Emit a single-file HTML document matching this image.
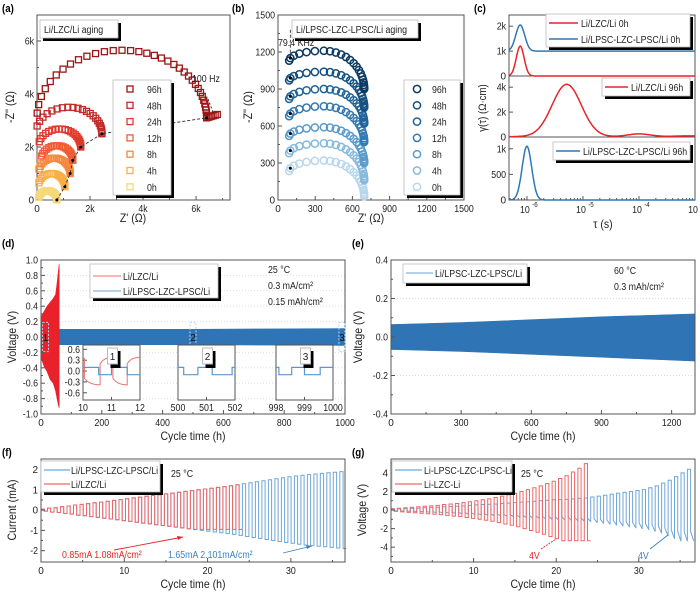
<!DOCTYPE html>
<html><head><meta charset="utf-8"><style>
html,body{margin:0;padding:0;background:#fff;}
svg{display:block;font-family:"Liberation Sans",sans-serif;}
</style></head><body>
<svg id="fig" width="700" height="594" viewBox="0 0 700 594" xmlns="http://www.w3.org/2000/svg"></svg>
<script>
// ---------- DATA ----------
const aLabels=['96h','48h','24h','12h','8h','4h','0h'];
const aCx=[3.2,1.2,0.85,0.75,0.65,0.55,0.4];
const aCy=[3.1,2.5,2.0,1.5,1.0,0.5,0.0];
const aRx=[3.2,1.25,0.8,0.6,0.6,0.5,0.35];
const aRy=[2.55,1.0,0.68,0.55,0.58,0.5,0.35];
const aColors=['#9e1414','#c22a28','#e0392b','#f05d33','#f5883c','#f8b045','#f7d878'];
const bLabels=['96h','48h','24h','12h','8h','4h','0h'];
const bPeak=[1210,1040,900,760,590,460,320];
const bLeft=[1130,970,820,680,520,380,235];
const bEnd=[900,750,620,470,300,160,30];
const bColors=['#0c3a62','#16507f','#216499','#357ab1','#5a9bcb','#87b9dd','#b8d7ed'];
const cTop0hBlue={base:1000,c:[-6.12],h:[1050],w:[0.08]};
const cTop0hRed={base:0,c:[-6.12],h:[1200],w:[0.07]};
const cMid96hRed={base:30,c:[-5.29,-4.0,-3.1],h:[4200,220,60],w:[0.26,0.2,0.3]};
const cBot96hBlue={base:0,c:[-6.0],h:[1050],w:[0.085]};
const dRedT=[0,3,10,20,30,40,48,53,57,60];
const dRedUp=[0.1,0.28,0.33,0.4,0.45,0.5,0.55,0.7,0.85,0.95];
const dRedLow=[-0.1,-0.3,-0.38,-0.45,-0.55,-0.6,-0.7,-0.8,-0.88,-0.92];
const dBlueT=[0,250,500,750,1000];
const dBlueUp=[0.1,0.1,0.1,0.105,0.11];
const dBlueLow=[-0.1,-0.1,-0.1,-0.105,-0.11];
const eT=[0,300,600,900,1300];
const eUp=[0.065,0.075,0.09,0.105,0.12];
const eLow=[-0.065,-0.075,-0.09,-0.105,-0.125];
const fRedAmp=[0.05,0.1,0.12,0.17,0.2,0.25,0.28,0.32,0.36,0.4,0.44,0.48,0.52,0.56,0.6,0.64,0.68,0.72,0.76,0.8,0.84,0.88,0.92,0.96,1.0,1.04,1.08,1.12,1.16,1.2,1.25];
const fRedNegFloor=-0.95;
const fBlueAmp=[0.05,0.1,0.12,0.17,0.2,0.25,0.28,0.32,0.36,0.4,0.44,0.48,0.52,0.56,0.6,0.64,0.68,0.72,0.76,0.8,0.84,0.88,0.92,0.96,1.0,1.04,1.08,1.12,1.16,1.2,1.25,1.3,1.35,1.4,1.45,1.5,1.55,1.6,1.64,1.68,1.72,1.75,1.78,1.81,1.84,1.87,1.9];
const gRedAmp=[0.15,0.2,0.25,0.3,0.35,0.4,0.45,0.5,0.6,0.65,0.7,0.8,0.9,1.0,1.1,1.2,1.35,1.5,1.65,1.8,2.0,2.2,2.4,2.6,2.85,3.1,3.4,3.7,4.1,4.5,5.0];
const gBlueAmp=[0.1,0.12,0.15,0.18,0.2,0.25,0.28,0.3,0.35,0.38,0.4,0.45,0.5,0.55,0.6,0.62,0.65,0.7,0.75,0.8,0.85,0.9,0.95,1.0,1.05,1.1,1.12,1.15,1.2,1.25,1.3,1.4,1.5,1.6,1.7,1.8,1.9,2.0,2.1,2.2,2.4,2.6,2.9,3.2,3.6,4.0,4.4];
const gNegFloor=-3.3;
const cyclePeriod=0.78;

// ---------- HELPERS ----------
const NS='http://www.w3.org/2000/svg';
const svg=document.getElementById('fig');
function mk(tag,attrs,name,parent){
  const el=document.createElementNS(NS,tag);
  for(const k in attrs) el.setAttribute(k,attrs[k]);
  
  
  (parent||svg).appendChild(el);
  return el;
}
function txt(x,y,s,name,o){
  o=o||{};
  const el=mk('text',{x:x,y:y,'font-size':o.size||10,fill:o.fill||'#222','text-anchor':o.anchor||'start','font-weight':o.bold?'bold':'normal'},name);
  if(o.rot) el.setAttribute('transform','rotate(-90 '+x+' '+y+')');
  el.textContent=s;
  return el;
}
function axis(x0,x1,xmin,xmax,yb,yt,ymin,ymax,log){
  return {
    X:v=>log? x0+(Math.log10(v)-xmin)/(xmax-xmin)*(x1-x0) : x0+(v-xmin)/(xmax-xmin)*(x1-x0),
    XL:v=>x0+(v-xmin)/(xmax-xmin)*(x1-x0),
    Y:v=>yb-(v-ymin)/(ymax-ymin)*(yb-yt), x0,x1,yb,yt};
}
function frame(ax,name){
  mk('rect',{x:ax.x0,y:ax.yt,width:ax.x1-ax.x0,height:ax.yb-ax.yt,fill:'none',stroke:'#555','stroke-width':1},name);
}
function yticks(ax,vals,labels,name,minor){
  vals.forEach((v,i)=>{
    const y=ax.Y(v);
    mk('line',{x1:ax.x0,x2:ax.x0+4,y1:y,y2:y,stroke:'#555'},name+'-tick');
    txt(ax.x0-3,y+3.5,labels[i],name+'-label',{anchor:'end'});
  });
  (minor||[]).forEach(v=>{const y=ax.Y(v);mk('line',{x1:ax.x0,x2:ax.x0+2,y1:y,y2:y,stroke:'#555'},name+'-minor-tick');});
}
function xticks(ax,vals,labels,name,minor,useLog){
  vals.forEach((v,i)=>{
    const x=useLog?ax.XL(v):ax.X(v);
    mk('line',{x1:x,x2:x,y1:ax.yb,y2:ax.yb-4,stroke:'#555'},name+'-tick');
    txt(x,ax.yb+12,labels[i],name+'-label',{anchor:'middle'});
  });
  (minor||[]).forEach(v=>{const x=useLog?ax.XL(v):ax.X(v);mk('line',{x1:x,x2:x,y1:ax.yb,y2:ax.yb-2,stroke:'#555'},name+'-minor-tick');});
}
function pathD(pts){return pts.map((p,i)=>(i?'L':'M')+p[0].toFixed(1)+' '+p[1].toFixed(1)).join(' ');}
function shadowBox(x,y,w,h,name){
  mk('rect',{x:x+3,y:y+3,width:w,height:h,fill:'#000'},name+'-shadow');
  mk('rect',{x:x,y:y,width:w,height:h,fill:'#fff',stroke:'#bbb','stroke-width':0.8},name);
}
function band(ax,T,U,L,color,name){
  const pts=T.map((t,i)=>[ax.X(t),ax.Y(U[i])]).concat(T.map((t,i)=>[ax.X(t),ax.Y(L[i])]).reverse());
  mk('path',{d:pathD(pts)+' Z',fill:color,stroke:color,'stroke-width':0.6},name);
}
function squareWave(ax,amps,neg,color,name,sw,shape){
  let pts=[[ax.X(0),ax.Y(0)]];
  amps.forEach((a,i)=>{
    const t0=i*cyclePeriod, th=t0+cyclePeriod/2, t1=t0+cyclePeriod;
    const n=neg(a,i);
    pts.push([ax.X(t0),ax.Y(a)],[ax.X(th),ax.Y(a)],[ax.X(th),ax.Y(n*(shape?0.7:1))],[ax.X(t1-0.02),ax.Y(n)],[ax.X(t1),ax.Y(n)]);
  });
  mk('path',{d:pathD(pts),fill:'none',stroke:color,'stroke-width':sw||1},name);
}

// ---------- PANEL LABELS ----------
[['(a)',2,12],['(b)',232,12],['(c)',474,12],['(d)',2,247],['(e)',352,247],['(f)',2,456],['(g)',352,456]].forEach(p=>{
  txt(p[1],p[2],p[0],'panel-label-'+p[0].replace(/[()]/g,''),{size:11,bold:true,fill:'#000'});
});

// ---------- (a) ----------
const A=axis(37,230,0,7.28,200,15,0,6.98);
frame(A,'panel-a-frame');
yticks(A,[0,2,4,6],['0','2k','4k','6k'],'panel-a-y',[1,3,5]);
xticks(A,[0,2,4,6],['0','2k','4k','6k'],'panel-a-x',[1,3,5,7]);
txt(14,107,"-Z'' (Ω)",'panel-a-y-title',{size:12,rot:true,anchor:'middle'});
txt(133,222,"Z' (Ω)",'panel-a-x-title',{size:12,anchor:'middle'});
const aEnds=[];
for(let k=aLabels.length-1;k>=0;k--){
  const th0=(k===0?176:163)*Math.PI/180, N=k===0?36:22;
  for(let j=0;j<=N;j++){
    const t=j/N, th=th0*Math.pow(1-t,1.5);
    const px=A.X(aCx[k]+aRx[k]*Math.cos(th)), py=A.Y(aCy[k]+aRy[k]*Math.sin(th));
    mk('rect',{x:px-3,y:py-3,width:6,height:6,fill:'none',stroke:aColors[k],'stroke-width':1.3},'panel-a-point-'+aLabels[k]);
  }
  aEnds.push([A.X(aCx[k]+aRx[k]),A.Y(aCy[k])]);
}
for(let j=1;j<=5;j++){
  const px=A.X(aCx[0]+aRx[0]+j*0.08), py=A.Y(aCy[0]+j*0.025);
  mk('rect',{x:px-3,y:py-3,width:6,height:6,fill:'none',stroke:aColors[0],'stroke-width':1.3},'panel-a-point-96h-tail');
}
mk('path',{d:pathD(aEnds),fill:'none',stroke:'#333','stroke-width':0.9,'stroke-dasharray':'3,2'},'panel-a-frequency-line');
aEnds.forEach(p=>mk('circle',{cx:p[0],cy:p[1],r:1.5,fill:'#000'},'panel-a-100hz-marker'));
txt(192,82,'100 Hz','panel-a-100hz-label',{size:10});
mk('line',{x1:208,y1:99,x2:213,y2:112,stroke:'#333','stroke-dasharray':'2,2'},'panel-a-100hz-pointer');
shadowBox(40,20,78,18,'panel-a-title-box');
txt(44,33,'Li/LZC/Li aging','panel-a-title',{size:10});
shadowBox(113,80,58,115,'panel-a-legend');
aLabels.forEach((l,i)=>{
  const y=89+i*16.3;
  mk('rect',{x:127,y:y-3,width:6,height:6,fill:'none',stroke:aColors[i],'stroke-width':1.3},'panel-a-legend-marker-'+l);
  txt(147,y+4,l,'panel-a-legend-entry-'+l,{size:10});
});

// ---------- (b) ----------
const B=axis(278,464,0,1500,200,15,0,1500);
frame(B,'panel-b-frame');
yticks(B,[0,300,600,900,1200,1500],['0','300','600','900','1200','1500'],'panel-b-y',[150,450,750,1050,1350]);
xticks(B,[0,300,600,900,1200,1500],['0','300','600','900','1200','1500'],'panel-b-x',[150,450,750,1050,1350]);
txt(252,107,"-Z'' (Ω)",'panel-b-y-title',{size:12,rot:true,anchor:'middle'});
txt(371,222,"Z' (Ω)",'panel-b-x-title',{size:12,anchor:'middle'});
const bDots=[];
for(let k=bLabels.length-1;k>=0;k--){
  const pts=[];
  for(let j=0;j<=6;j++){const th=Math.PI*(1-j/12);pts.push([370+280*Math.cos(th),bLeft[k]+(bPeak[k]-bLeft[k])*Math.sin(th)]);}
  const N=16;
  for(let j=1;j<=N;j++){const t=j/N, th=Math.PI/2*Math.pow(1-t,1.6);pts.push([370+325*Math.cos(th),bEnd[k]+(bPeak[k]-bEnd[k])*Math.sin(th)]);}
  pts.forEach(p=>mk('circle',{cx:B.X(p[0]),cy:B.Y(p[1]),r:3.6,fill:'none',stroke:bColors[k],'stroke-width':1.5},'panel-b-point-'+bLabels[k]));
  bDots.push([B.X(pts[1][0]),B.Y(pts[1][1])]);
}
mk('line',{x1:bDots[0][0],y1:B.Y(1380),x2:bDots[0][0],y2:bDots[6][1],stroke:'#333','stroke-width':0.9,'stroke-dasharray':'3,2'},'panel-b-frequency-line');
bDots.forEach(p=>mk('circle',{cx:p[0],cy:p[1],r:1.5,fill:'#000'},'panel-b-79khz-marker'));
txt(278,46,'79.4 KHz','panel-b-79khz-label',{size:10});
shadowBox(292,20,126,18,'panel-b-title-box');
txt(296,33,'Li/LPSC-LZC-LPSC/Li aging','panel-b-title',{size:10});
shadowBox(404,80,56,115,'panel-b-legend');
bLabels.forEach((l,i)=>{
  const y=89+i*16.3;
  mk('circle',{cx:417,cy:y,r:3.6,fill:'none',stroke:bColors[i],'stroke-width':1.5},'panel-b-legend-marker-'+l);
  txt(432,y+4,l,'panel-b-legend-entry-'+l,{size:10});
});

// ---------- (c) ----------
const cx0=509,cx1=695,cmin=-6.32,cmax=-3.0;
const CT=axis(cx0,cx1,cmin,cmax,76,15,0,2450);
const CM=axis(cx0,cx1,cmin,cmax,137,76,0,4900);
const CB=axis(cx0,cx1,cmin,cmax,200,137,0,1230);
mk('rect',{x:cx0,y:15,width:cx1-cx0,height:185,fill:'none',stroke:'#555'},'panel-c-frame');
mk('line',{x1:cx0,x2:cx1,y1:76,y2:76,stroke:'#555'},'panel-c-divider-1');
mk('line',{x1:cx0,x2:cx1,y1:137,y2:137,stroke:'#555'},'panel-c-divider-2');
yticks(CT,[0,1000,2000],['0','1k','2k'],'panel-c-top-y');
yticks(CM,[0,2000,4000],['0','2k','4k'],'panel-c-mid-y');
yticks(CB,[0,500,1000],['0','500','1k'],'panel-c-bottom-y');
[-6,-5,-4,-3].forEach(d=>{
  const x=CB.XL(d);
  mk('line',{x1:x,x2:x,y1:200,y2:196,stroke:'#555'},'panel-c-x-tick');
  txt(x-2,213,'10','panel-c-x-label',{anchor:'middle'});
  txt(x+8,207,String(d),'panel-c-x-label-exponent',{size:7,anchor:'middle'});
});
for(let d=-7;d<=-3;d++)for(let m=2;m<10;m++){const v=d+Math.log10(m);if(v>cmin&&v<cmax){const x=CB.XL(v);mk('line',{x1:x,x2:x,y1:200,y2:198,stroke:'#555'},'panel-c-x-minor-tick');}}
txt(486,108,'γ(τ) (Ω·cm)','panel-c-y-title',{size:11,rot:true,anchor:'middle'});
txt(603,228,'τ (s)','panel-c-x-title',{size:12,anchor:'middle'});
function drt(ax,spec,color,name){
  const pts=[];
  for(let v=cmin;v<=cmax+1e-9;v+=0.01){
    let y=spec.base;
    spec.c.forEach((c,i)=>{y+=spec.h[i]*Math.exp(-0.5*Math.pow((v-c)/spec.w[i],2));});
    pts.push([ax.XL(v),ax.Y(y)]);
  }
  mk('path',{d:pathD(pts),fill:'none',stroke:color,'stroke-width':1.5},name);
}
drt(CT,cTop0hRed,'#e8242a','panel-c-line-lzc-0h');
drt(CT,cTop0hBlue,'#2f77bb','panel-c-line-lpsc-0h');
drt(CM,cMid96hRed,'#e8242a','panel-c-line-lzc-96h');
drt(CB,cBot96hBlue,'#2f77bb','panel-c-line-lpsc-96h');
shadowBox(546,14,144,33,'panel-c-legend-top');
mk('line',{x1:549,x2:578,y1:23,y2:23,stroke:'#e8242a','stroke-width':1.5},'panel-c-legend-swatch-lzc-0h');
txt(581,27,'Li/LZC/Li 0h','panel-c-legend-entry-lzc-0h',{size:10});
mk('line',{x1:549,x2:578,y1:39,y2:39,stroke:'#2f77bb','stroke-width':1.5},'panel-c-legend-swatch-lpsc-0h');
txt(581,43,'Li/LPSC-LZC-LPSC/Li 0h','panel-c-legend-entry-lpsc-0h',{size:10});
shadowBox(602,78,88,18,'panel-c-legend-mid');
mk('line',{x1:605,x2:628,y1:87,y2:87,stroke:'#e8242a','stroke-width':1.5},'panel-c-legend-swatch-lzc-96h');
txt(631,91,'Li/LZC/Li 96h','panel-c-legend-entry-lzc-96h',{size:10});
shadowBox(553,142,137,18,'panel-c-legend-bottom');
mk('line',{x1:556,x2:580,y1:151,y2:151,stroke:'#2f77bb','stroke-width':1.5},'panel-c-legend-swatch-lpsc-96h');
txt(583,155,'Li/LPSC-LZC-LPSC/Li 96h','panel-c-legend-entry-lpsc-96h',{size:10});

// ---------- (d) ----------
const D=axis(41,345,0,1000,414,260,-1,1);
[0.8,0.6,0.4,0.2,-0.2,-0.4,-0.6,-0.8].forEach(v=>mk('line',{x1:41,x2:345,y1:D.Y(v),y2:D.Y(v),stroke:'#ddd','stroke-dasharray':'1,2'},'panel-d-gridline'));
band(D,dBlueT,dBlueUp,dBlueLow,'#2f74b5','panel-d-band-lpsc');
band(D,dRedT,dRedUp,dRedLow,'#e8212a','panel-d-band-lzc');
frame(D,'panel-d-frame');
yticks(D,[-1,-0.8,-0.6,-0.4,-0.2,0,0.2,0.4,0.6,0.8,1],['-1.0','-0.8','-0.6','-0.4','-0.2','0.0','0.2','0.4','0.6','0.8','1.0'],'panel-d-y',[-0.9,-0.7,-0.5,-0.3,-0.1,0.1,0.3,0.5,0.7,0.9]);
xticks(D,[0,200,400,600,800,1000],['0','200','400','600','800','1000'],'panel-d-x',[100,300,500,700,900]);
txt(16,337,'Voltage (V)','panel-d-y-title',{size:12,rot:true,anchor:'middle'});
txt(193,440,'Cycle time (h)','panel-d-x-title',{size:12,anchor:'middle'});
[[15,'1'],[500,'2'],[990,'3']].forEach(p=>{
  mk('rect',{x:D.X(p[0])-3,y:D.Y(0.19),width:6,height:D.Y(-0.19)-D.Y(0.19),fill:'none',stroke:'#bcd3ea','stroke-dasharray':'2,1.5'},'panel-d-zoom-box-'+p[1]);
  txt(D.X(p[0]),D.Y(0)+4,p[1],'panel-d-zoom-box-label-'+p[1],{anchor:'middle',fill:'#111'});
});
const insets=[{x0:83,x1:140,t0:10,lab:['10','11','12'],id:'1',blue:[[10,0.1],[10.55,-0.1],[11.0,0.1],[11.55,-0.1],[12,-0.1]]},
  {x0:178,x1:235,t0:500,lab:['500','501','502'],id:'2',blue:[[500,0.1],[500.2,-0.1],[500.7,0.1],[501.2,-0.1],[501.9,0.1],[502,0.1]]},
  {x0:276,x1:333,t0:998,lab:['998','999','1000'],id:'3',blue:[[998,0.1],[998.1,-0.1],[998.55,0.1],[999.0,-0.1],[999.55,0.1],[1000,0.1]]}];
insets.forEach(ins=>{
  const I=axis(ins.x0,ins.x1,ins.t0,ins.t0+2,400,345,-0.8,0.72);
  mk('rect',{x:ins.x0,y:345,width:ins.x1-ins.x0,height:55,fill:'#fff',stroke:'#555'},'panel-d-inset-'+ins.id+'-frame');
  if(ins.id==='1'){
    yticks(I,[-0.6,-0.3,0,0.3,0.6],['-0.6','-0.3','0.0','0.3','0.6'],'panel-d-inset-1-y');
    const segs=[[10,10.05,0.35,0.35],[10.05,10.6,-0.2,-0.38],[10.6,11.05,0.2,0.38],[11.05,11.55,-0.2,-0.38],[11.55,12,0.2,0.38]];
    const rp=[];
    segs.forEach(s=>{for(let j=0;j<=8;j++){const t=s[0]+(s[1]-s[0])*j/8;rp.push([I.X(t),I.Y(s[2]+(s[3]-s[2])*(1-Math.exp(-j/2.5))/(1-Math.exp(-3.2)))]);}});
    mk('path',{d:pathD(rp),fill:'none',stroke:'#f07070','stroke-width':1},'panel-d-inset-1-red-line');
  }
  const bp=[];
  ins.blue.forEach((p,i)=>{if(i>0)bp.push([I.X(p[0]),I.Y(ins.blue[i-1][1])]);bp.push([I.X(p[0]),I.Y(p[1])]);});
  mk('path',{d:pathD(bp),fill:'none',stroke:'#5b97cf','stroke-width':1.2},'panel-d-inset-'+ins.id+'-blue-line');
  ins.lab.forEach((l,i)=>{const x=ins.x0+(ins.x1-ins.x0)*i/2;mk('line',{x1:x,x2:x,y1:400,y2:397,stroke:'#555'},'panel-d-inset-x-tick');txt(x,411,l,'panel-d-inset-'+ins.id+'-x-label',{anchor:'middle'});});
  const bx=(ins.x0+ins.x1)/2-4;
  mk('rect',{x:bx+3,y:351,width:10,height:17,fill:'#000'},'panel-d-inset-'+ins.id+'-badge-shadow');
  mk('rect',{x:bx,y:348,width:10,height:16,fill:'#fff',stroke:'#bbb'},'panel-d-inset-'+ins.id+'-badge');
  txt(bx+5,360,ins.id,'panel-d-inset-'+ins.id+'-badge-label',{anchor:'middle'});
});
shadowBox(90,264,128,34,'panel-d-legend');
mk('line',{x1:93,x2:121,y1:276,y2:276,stroke:'#f07070'},'panel-d-legend-swatch-lzc');
txt(123,280,'Li/LZC/Li','panel-d-legend-entry-lzc',{size:10});
mk('line',{x1:93,x2:121,y1:291,y2:291,stroke:'#6aa2d6'},'panel-d-legend-swatch-lpsc');
txt(123,295,'Li/LPSC-LZC-LPSC/Li','panel-d-legend-entry-lpsc',{size:10});
txt(268,273,'25 °C','panel-d-temperature',{size:10});
txt(268,289,'0.3 mA/cm²','panel-d-current-density',{size:10});
txt(268,305,'0.15 mAh/cm²','panel-d-capacity',{size:10});

// ---------- (e) ----------
const E=axis(391,695,0,1300,414,260,-0.4,0.4);
[0.2,-0.2].forEach(v=>mk('line',{x1:391,x2:695,y1:E.Y(v),y2:E.Y(v),stroke:'#ddd','stroke-dasharray':'1,2'},'panel-e-gridline'));
band(E,eT,eUp,eLow,'#2f74b5','panel-e-band-lpsc');
frame(E,'panel-e-frame');
yticks(E,[-0.4,-0.2,0,0.2,0.4],['-0.4','-0.2','0.0','0.2','0.4'],'panel-e-y',[-0.3,-0.1,0.1,0.3]);
xticks(E,[0,300,600,900,1200],['0','300','600','900','1200'],'panel-e-x',[150,450,750,1050]);
txt(362,337,'Voltage (V)','panel-e-y-title',{size:12,rot:true,anchor:'middle'});
txt(543,440,'Cycle time (h)','panel-e-x-title',{size:12,anchor:'middle'});
shadowBox(403,264,124,19,'panel-e-legend');
mk('line',{x1:406,x2:433,y1:273,y2:273,stroke:'#6aa2d6'},'panel-e-legend-swatch-lpsc');
txt(435,277,'Li/LPSC-LZC-LPSC/Li','panel-e-legend-entry-lpsc',{size:10});
txt(614,274,'60 °C','panel-e-temperature',{size:10});
txt(614,290,'0.3 mAh/cm²','panel-e-capacity',{size:10});

// ---------- (f) ----------
const F=axis(41,345,0,36.5,562,459,-2.56,2.52);
squareWave(F,fBlueAmp,a=>-a,'#6ea6d8','panel-f-line-lpsc',1);
squareWave(F,fRedAmp,a=>Math.max(-a,fRedNegFloor),'#f06666','panel-f-line-lzc',1);
frame(F,'panel-f-frame');
yticks(F,[-2,-1,0,1,2],['-2','-1','0','1','2'],'panel-f-y',[-1.5,-0.5,0.5,1.5]);
xticks(F,[0,10,20,30],['0','10','20','30'],'panel-f-x',[5,15,25,35]);
txt(16,510,'Current (mA)','panel-f-y-title',{size:12,rot:true,anchor:'middle'});
txt(193,588,'Cycle time (h)','panel-f-x-title',{size:12,anchor:'middle'});
shadowBox(41,461,119,31,'panel-f-legend');
mk('line',{x1:44,x2:70,y1:470,y2:470,stroke:'#6ea6d8','stroke-width':1.3},'panel-f-legend-swatch-lpsc');
txt(71,474,'Li/LPSC-LZC-LPSC/Li','panel-f-legend-entry-lpsc',{size:10});
mk('line',{x1:44,x2:70,y1:484,y2:484,stroke:'#f06666','stroke-width':1.3},'panel-f-legend-swatch-lzc');
txt(71,488,'Li/LZC/Li','panel-f-legend-entry-lzc',{size:10});
txt(171,477,'25 °C','panel-f-temperature',{size:10});
txt(62,558,'0.85mA 1.08mA/cm²','panel-f-annotation-lzc',{size:10,fill:'#e8242a'});
txt(168,558,'1.65mA 2.101mA/cm²','panel-f-annotation-lpsc',{size:10,fill:'#3b82c4'});
mk('line',{x1:114,y1:550,x2:183,y2:537,stroke:'#e8242a','stroke-width':0.9},'panel-f-arrow-lzc');
mk('path',{d:'M183 537 L177 536 L178 540 Z',fill:'#e8242a'},'panel-f-arrowhead-lzc');
mk('line',{x1:283,y1:553,x2:312,y2:546,stroke:'#3b82c4','stroke-width':0.9},'panel-f-arrow-lpsc');
mk('path',{d:'M312 546 L306 545 L307 549 Z',fill:'#3b82c4'},'panel-f-arrowhead-lpsc');

// ---------- (g) ----------
const G=axis(391,695,0,36.8,562,459,-5.6,5.5);
squareWave(G,gBlueAmp,a=>Math.max(-a*0.95,gNegFloor),'#6ea6d8','panel-g-line-lpsc',1,true);
squareWave(G,gRedAmp,a=>Math.max(-a,gNegFloor),'#f06666','panel-g-line-lzc',1);
frame(G,'panel-g-frame');
yticks(G,[-4,-2,0,2,4],['-4','-2','0','2','4'],'panel-g-y',[-5,-3,-1,1,3,5]);
xticks(G,[0,10,20,30],['0','10','20','30'],'panel-g-x',[5,15,25,35]);
txt(366,510,'Voltage (V)','panel-g-y-title',{size:12,rot:true,anchor:'middle'});
txt(543,588,'Cycle time (h)','panel-g-x-title',{size:12,anchor:'middle'});
shadowBox(392,461,120,31,'panel-g-legend');
mk('line',{x1:395,x2:422,y1:470,y2:470,stroke:'#6ea6d8','stroke-width':1.3},'panel-g-legend-swatch-lpsc');
txt(424,474,'Li-LPSC-LZC-LPSC-Li','panel-g-legend-entry-lpsc',{size:10});
mk('line',{x1:395,x2:422,y1:484,y2:484,stroke:'#f06666','stroke-width':1.3},'panel-g-legend-swatch-lzc');
txt(424,488,'Li-LZC-Li','panel-g-legend-entry-lzc',{size:10});
txt(521,477,'25 °C','panel-g-temperature',{size:10});
txt(529,559,'4V','panel-g-annotation-lzc',{size:10,fill:'#e8242a'});
mk('line',{x1:541,y1:549,x2:556,y2:539,stroke:'#e8242a','stroke-width':0.9,'stroke-dasharray':'2,1'},'panel-g-arrow-lzc');
txt(638,559,'4V','panel-g-annotation-lpsc',{size:10,fill:'#3b82c4'});
mk('line',{x1:650,y1:549,x2:668,y2:535,stroke:'#3b82c4','stroke-width':0.9},'panel-g-arrow-lpsc');

// condense text to mimic the narrower reference font
svg.querySelectorAll('text').forEach(t=>{
  if(t.textContent.length<2) return;
  const w=t.getComputedTextLength();
  if(w>0){t.setAttribute('textLength',(w*0.88).toFixed(1));t.setAttribute('lengthAdjust','spacingAndGlyphs');}
});
</script>
</body></html>
